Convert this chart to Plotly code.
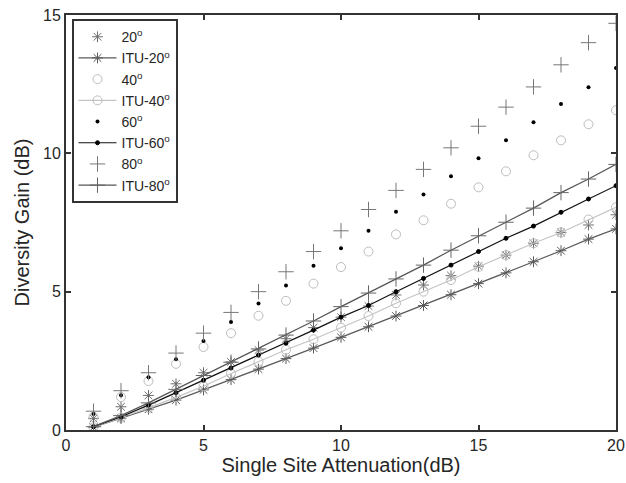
import plotly.graph_objects as go

x = list(range(1, 21))

s20 = [0.42, 0.84, 1.25, 1.67, 2.07, 2.46, 2.89, 3.3, 3.7, 4.08, 4.48, 4.88, 5.24, 5.58, 5.92, 6.32, 6.75, 7.14, 7.41, 7.78]
itu20 = [0.1, 0.42, 0.75, 1.08, 1.45, 1.82, 2.2, 2.58, 2.96, 3.35, 3.73, 4.12, 4.5, 4.89, 5.29, 5.68, 6.08, 6.48, 6.9, 7.27]
s40 = [0.47, 1.19, 1.77, 2.39, 3.0, 3.5, 4.13, 4.67, 5.29, 5.89, 6.45, 7.07, 7.58, 8.18, 8.77, 9.35, 9.93, 10.47, 11.05, 11.56]
itu40 = [0.1, 0.45, 0.8, 1.18, 1.58, 2.04, 2.47, 2.9, 3.28, 3.7, 4.12, 4.58, 5.0, 5.42, 5.9, 6.32, 6.75, 7.14, 7.61, 8.05]
s60 = [0.58, 1.26, 1.91, 2.56, 3.22, 3.9, 4.57, 5.22, 5.94, 6.57, 7.2, 7.89, 8.51, 9.17, 9.82, 10.47, 11.12, 11.78, 12.39, 13.08]
itu60 = [0.12, 0.48, 0.9, 1.35, 1.8, 2.24, 2.71, 3.14, 3.61, 4.08, 4.5, 5.0, 5.48, 5.96, 6.45, 6.93, 7.37, 7.87, 8.35, 8.83]
s80 = [0.68, 1.42, 2.07, 2.78, 3.5, 4.25, 5.0, 5.72, 6.45, 7.2, 7.97, 8.66, 9.42, 10.2, 10.98, 11.67, 12.4, 13.2, 14.0, 14.7]
itu80 = [0.12, 0.52, 0.98, 1.47, 1.97, 2.45, 2.93, 3.43, 3.94, 4.46, 4.95, 5.46, 5.96, 6.5, 7.02, 7.51, 8.02, 8.58, 9.07, 9.6]

x_ticks = [0, 5, 10, 15, 20]
y_ticks = [0, 5, 10, 15]

fig = go.Figure()

def sc(y, name, sym, size, color, lw=1):
    fig.add_trace(go.Scatter(x=x, y=y, name=name, mode="markers",
                             marker=dict(symbol=sym, size=size, color=color,
                                         line=dict(width=lw, color=color))))

def ln(y, name, sym, size, color, lcolor, lw=1.2):
    fig.add_trace(go.Scatter(x=x, y=y, name=name, mode="lines+markers",
                             line=dict(color=lcolor, width=lw),
                             marker=dict(symbol=sym, size=size, color=color,
                                         line=dict(width=1, color=color))))

sc(s20, "20<sup>o</sup>", "asterisk-open", 9, "#6e6e6e")
ln(itu20, "ITU-20<sup>o</sup>", "asterisk-open", 9, "#5a5a5a", "#5a5a5a")
sc(s40, "40<sup>o</sup>", "circle-open", 9, "#bdbdbd")
ln(itu40, "ITU-40<sup>o</sup>", "circle-open", 9, "#bdbdbd", "#c4c4c4")
sc(s60, "60<sup>o</sup>", "circle", 4, "#000000", 0)
ln(itu60, "ITU-60<sup>o</sup>", "circle", 4, "#000000", "#111111")
sc(s80, "80<sup>o</sup>", "cross-thin-open", 11, "#777777")
ln(itu80, "ITU-80<sup>o</sup>", "cross-thin-open", 11, "#666666", "#555555")

axis_common = dict(showgrid=False, zeroline=False, showline=True, mirror="ticks",
                   linecolor="#333333", linewidth=2, ticks="inside", ticklen=5,
                   tickwidth=1.5, tickcolor="#333333",
                   tickfont=dict(size=16, color="#262626"))

fig.update_layout(
    width=626, height=483, autosize=False,
    margin=dict(l=66, r=10, t=15, b=53),
    paper_bgcolor="white", plot_bgcolor="white",
    font=dict(family="Liberation Sans, Arial, sans-serif", color="#262626"),
    xaxis=dict(range=[0, 20], tickvals=x_ticks, automargin="bottom",
               title=dict(text="Single Site Attenuation(dB)", font=dict(size=20), standoff=2),
               **axis_common),
    yaxis=dict(range=[0, 15], tickvals=y_ticks, automargin="left",
               title=dict(text="Diversity Gain (dB)", font=dict(size=20), standoff=8),
               **axis_common),
    legend=dict(x=0.01, y=0.99, xanchor="left", yanchor="top",
                bordercolor="#333333", borderwidth=2, bgcolor="white",
                font=dict(size=14, color="#262626"), itemwidth=38,
                tracegroupgap=0),
    showlegend=True,
)

fig.write_html("out.html",
               config={"responsive": False, "displayModeBar": False},
               post_script="document.body.style.margin='0';document.body.style.overflow='hidden';")
